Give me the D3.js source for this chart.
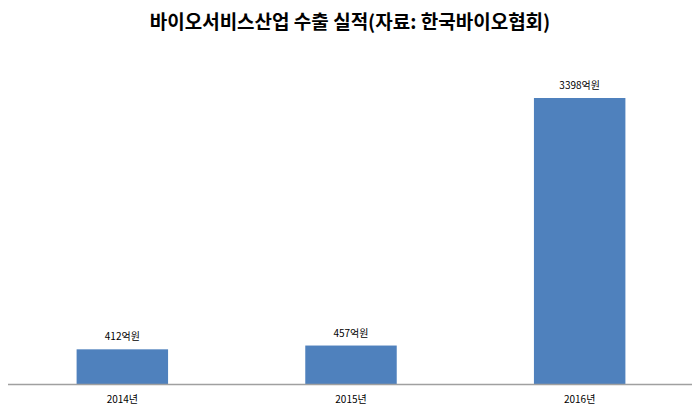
<!DOCTYPE html><html><head><meta charset="utf-8"><script src="https://cdn.jsdelivr.net/npm/d3@7"></script>
<style>body{margin:0;background:#fff}</style></head><body><svg id="c" width="700" height="407"></svg>
<script>
const categories=["2014년","2015년","2016년"];
const values=[412,457,3398];
const valueLabels=["412억원","457억원","3398억원"];
const svg=d3.select("#c");
const font="'Noto Sans CJK KR', sans-serif";
const base=384, top0=98;
const x=d3.scaleBand().domain(categories).range([8,694]).paddingInner(0.6).paddingOuter(0.3);
const y=d3.scaleLinear().domain([0,3398]).range([base,top0]);
svg.append("text").attr("x",350).attr("y",29).attr("text-anchor","middle").attr("font-family",font).attr("font-weight","bold").attr("font-size",19).attr("fill","#000").text("바이오서비스산업 수출 실적(자료: 한국바이오협회)");
svg.selectAll("rect").data(values).join("rect").attr("x",(d,i)=>x(categories[i])).attr("width",x.bandwidth()).attr("y",d=>y(d)).attr("height",d=>base-y(d)).attr("fill","#4f81bd");
svg.append("line").attr("x1",8).attr("x2",692).attr("y1",base+0.5).attr("y2",base+0.5).attr("stroke","#a0a0a0").attr("stroke-width",1.5);
svg.selectAll(".v").data(values).join("text").attr("x",(d,i)=>x(categories[i])+x.bandwidth()/2).attr("y",d=>y(d)-9).attr("text-anchor","middle").attr("font-family",font).attr("font-size",10).attr("fill","#000").text((d,i)=>valueLabels[i]);
svg.selectAll(".c").data(categories).join("text").attr("x",d=>x(d)+x.bandwidth()/2).attr("y",403).attr("text-anchor","middle").attr("font-family",font).attr("font-size",10).attr("fill","#000").text(d=>d);
</script></body></html>
